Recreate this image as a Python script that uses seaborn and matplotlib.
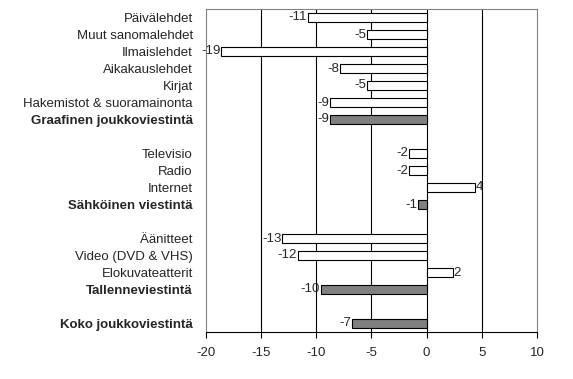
import matplotlib
matplotlib.use("Agg")
import matplotlib.pyplot as plt
import seaborn as sns
import pandas as pd

categories = ["Päivälehdet", "Muut sanomalehdet", "Ilmaislehdet", "Aikakauslehdet", "Kirjat",
              "Hakemistot & suoramainonta", "Graafinen joukkoviestintä",
              "Televisio", "Radio", "Internet", "Sähköinen viestintä",
              "Äänitteet", "Video (DVD & VHS)", "Elokuvateatterit", "Tallenneviestintä",
              "Koko joukkoviestintä"]
values = [-10.8, -5.4, -18.6, -7.9, -5.4, -8.8, -8.8,
          -1.6, -1.6, 4.4, -0.8,
          -13.1, -11.7, 2.4, -9.6,
          -6.8]
kinds = ["item"] * 6 + ["total"] + ["item"] * 3 + ["total"] + ["item"] * 3 + ["total"] + ["total"]
order = categories[:7] + [" "] + categories[7:11] + ["  "] + categories[11:15] + ["   "] + categories[15:]
xticks = [-20, -15, -10, -5, 0, 5, 10]

df = pd.DataFrame({"cat": categories, "val": values, "kind": kinds})

sns.set_style("white")
plt.rcParams["font.family"] = ["Liberation Sans", "DejaVu Sans"]

FS = 9.5
fig = plt.figure(figsize=(5.73, 3.79), dpi=100)
ax = fig.add_axes([206 / 573, 1 - 332 / 379, (537 - 206) / 573, (332 - 9) / 379])

sns.barplot(data=df, x="val", y="cat", hue="kind", order=order,
            palette={"item": "white", "total": "#808080"}, dodge=False,
            width=0.48, edgecolor="black", linewidth=0.8, legend=False, ax=ax,
            zorder=3)

ax.set_xlim(-20, 10)
ax.set_ylim(len(order) - 0.5, -0.5)
ax.set_xticks(xticks)
ax.set_xticklabels([str(t) for t in xticks], fontsize=FS)
for t in xticks[1:-1]:
    ax.axvline(t, color="black", linewidth=0.8, zorder=1)

ax.set_xlabel("")
ax.set_ylabel("")
ax.tick_params(axis="y", length=0, pad=9.5, labelsize=FS)
ax.tick_params(axis="x", length=4, width=0.8, color="black", direction="out", pad=7, bottom=True)

for lab in ax.get_yticklabels():
    if lab.get_text() in ("Graafinen joukkoviestintä", "Sähköinen viestintä",
                          "Tallenneviestintä", "Koko joukkoviestintä"):
        lab.set_fontweight("bold")

for sp in ["left", "right", "top"]:
    ax.spines[sp].set_color("#808080")
    ax.spines[sp].set_linewidth(0.8)
ax.spines["bottom"].set_color("black")
ax.spines["bottom"].set_linewidth(0.8)

for c, v in zip(categories, values):
    y = order.index(c)
    if v < 0:
        ax.text(v - 0.05, y, f"{v:.0f}", ha="right", va="center", fontsize=FS, zorder=4)
    else:
        ax.text(v + 0.05, y, f"{v:.0f}", ha="left", va="center", fontsize=FS, zorder=4)

fig.savefig("out.png", dpi=100)
